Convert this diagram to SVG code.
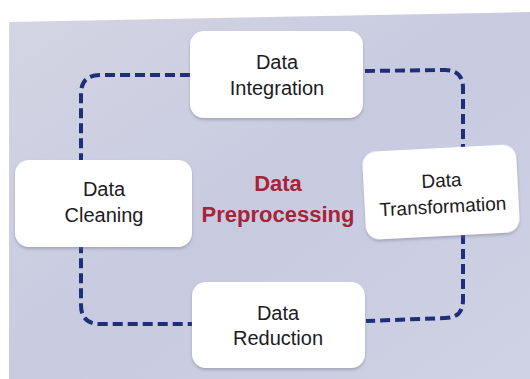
<svg xmlns="http://www.w3.org/2000/svg" width="530" height="379" viewBox="0 0 530 379">
<defs>
<linearGradient id="bg" x1="0" y1="0" x2="1" y2="1">
<stop offset="0" stop-color="#d3d5e3"/>
<stop offset="0.5" stop-color="#c8cbe0"/>
<stop offset="1" stop-color="#cfd1e4"/>
</linearGradient>
<filter id="sh" x="-10%" y="-10%" width="120%" height="130%">
<feDropShadow dx="0" dy="2" stdDeviation="1.5" flood-color="#7a7c90" flood-opacity="0.5"/>
</filter>
</defs>
<style>
.box{fill:#ffffff;filter:url(#sh)}
.lbl{font-family:"Liberation Sans",Arial,sans-serif;font-size:20px;fill:#1b1b24;text-anchor:middle}
.title{font-family:"Liberation Sans",Arial,sans-serif;font-size:22px;font-weight:bold;fill:#a62339;text-anchor:middle}
.loop{fill:none;stroke:#1f2e78;stroke-width:4;stroke-dasharray:10 5}
</style>
<rect width="530" height="379" fill="#ffffff"/>
<polygon points="9,22 530,12 530,379 9,379" fill="url(#bg)"/>
<g id="connectors">
<path class="loop" d="M190,75 L100,75 Q81,75 81,94 L81,305 Q81,324 100,324 L192,324"/>
<path class="loop" d="M365,71 L445,70 Q463,70 463,88 L463,300 Q463,318 445,318 L366,321"/>
</g>
<g id="n-integration">
<rect class="box" x="190" y="31" width="173" height="87" rx="14"/>
<text class="lbl" x="277" y="69">Data</text>
<text class="lbl" x="277" y="95">Integration</text>
</g>
<g id="n-cleaning">
<rect class="box" x="15" y="160" width="177" height="87" rx="14"/>
<text class="lbl" x="104" y="196">Data</text>
<text class="lbl" x="104" y="222">Cleaning</text>
</g>
<g id="n-transformation" transform="rotate(-3 442 192)">
<rect class="box" x="364" y="148" width="154" height="88" rx="14"/>
<text class="lbl" x="442" y="187" style="font-size:19px">Data</text>
<text class="lbl" x="442" y="213" style="font-size:19px">Transformation</text>
</g>
<g id="n-reduction">
<rect class="box" x="192" y="282" width="173" height="86" rx="14"/>
<text class="lbl" x="278" y="320">Data</text>
<text class="lbl" x="278" y="345">Reduction</text>
</g>
<g id="center">
<text class="title" x="278" y="191">Data</text>
<text class="title" x="278" y="222">Preprocessing</text>
</g>
</svg>
